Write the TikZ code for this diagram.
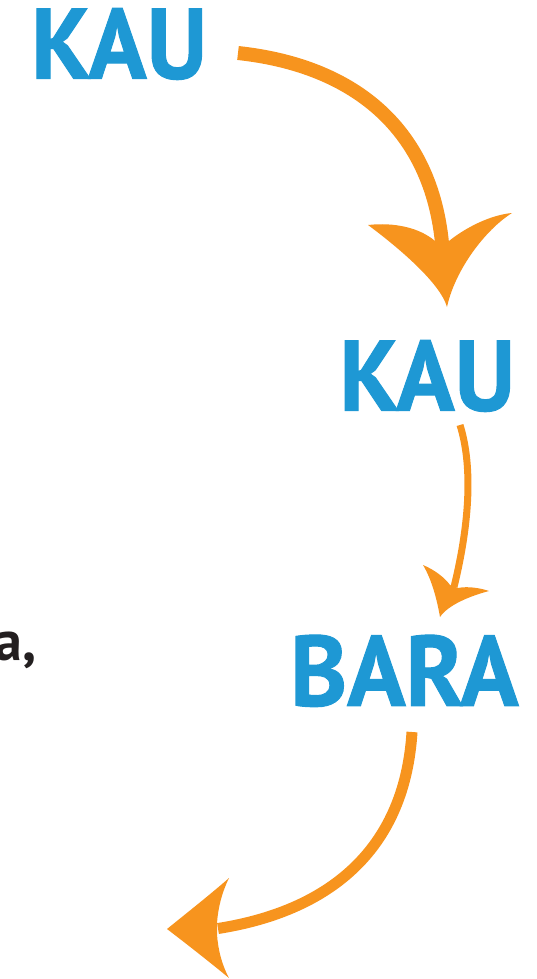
\documentclass[tikz,border=0pt]{standalone}
\usepackage{fontspec}
\setmainfont{PT Sans}
\newfontfamily\kaufont[FakeStretch=0.965,FakeBold=1]{PT Sans Bold}
\definecolor{kblue}{RGB}{30,152,212}
\definecolor{korange}{RGB}{247,148,30}
\definecolor{kdark}{RGB}{35,31,32}
\begin{document}
\begin{tikzpicture}[x=1pt,y=-1pt,
  word/.style={inner sep=0pt, text=kblue, font=\kaufont\fontsize{100}{100}\selectfont},
  shaft/.style={draw=korange, line cap=butt},
  head/.style={fill=korange}]
\useasboundingbox (0,0) rectangle (536,979);
% words
\node[word, anchor=south west] (k1) at (31,80) {KAU};
\node[word, anchor=south west] (k2) at (339,412) {KAU};
\node[word, anchor=south west] (b) at (290,707) {BARA};
\node[inner sep=0pt, anchor=base east, text=kdark, font=\fontsize{56}{56}\selectfont\bfseries] (a) at (37,660) {a,};
% connector end points
\coordinate (s1) at (238,53);
\coordinate (e1) at (442,243);
\coordinate (s2) at (460,425);
\coordinate (e2) at (454,587);
\coordinate (s3) at (412,732);
\coordinate (e3) at (218,928.5);
% arrow 1
\draw[shaft, line width=14] (s1) .. controls (358,66) and (431,132) .. (e1);
\fill[head] (368,225) .. controls (395,222) and (420,228) .. (435,241) -- (449,241)
  .. controls (465,228) and (490,215) .. (512,213)
  .. controls (485,230) and (455,270) .. (447,307)
  .. controls (440,282) and (395,245) .. cycle;
% arrow 2
\draw[shaft, line width=7] (s2) .. controls (474,470) and (468,530) .. (e2);
\fill[head] (423,565) .. controls (435,570) and (445,578) .. (450,585) -- (458,588)
  .. controls (468,586) and (480,588) .. (489,591)
  .. controls (470,596) and (448,605) .. (440,617)
  .. controls (437,600) and (432,580) .. cycle;
% arrow 3
\draw[shaft, line width=11] (s3) .. controls (405,845) and (335,910) .. (e3);
\fill[head] (229,878) .. controls (222,892) and (218,908) .. (217,923) -- (217,934)
  .. controls (218,950) and (222,965) .. (229,978)
  .. controls (212,964) and (188,945) .. (167,929)
  .. controls (188,912) and (212,893) .. cycle;
\end{tikzpicture}
\end{document}
